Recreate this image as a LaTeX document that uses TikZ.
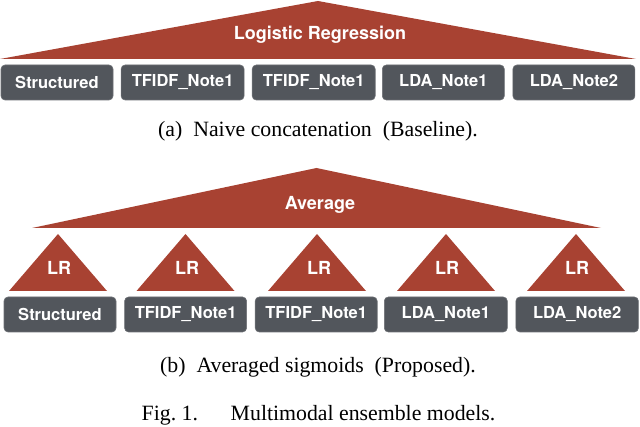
\documentclass[tikz,border=0pt]{standalone}
\usepackage{fontspec}
\setmainfont{Liberation Serif}
\setsansfont{TeX Gyre Heros}
\usetikzlibrary{shapes.geometric, positioning}
\definecolor{brick}{HTML}{A84232}
\definecolor{slate}{HTML}{52565C}

\begin{document}
\begin{tikzpicture} [x = 1pt, y = 1pt,
        feature/.style={rectangle, rounded corners = 4pt, fill = slate,
                draw = slate!85!white, line width = 0.6pt, text = white,
                minimum height = 35pt, inner sep = 0pt, align = center,
                font = \sffamily\bfseries\fontsize{16.5}{18}\selectfont},
        model/.style={isosceles triangle, isosceles triangle stretches,
                shape border rotate = 90, fill = brick, inner sep = 0pt,
                outer sep = 0pt, anchor = lower side},
        modeltext/.style={text = white,
                font = \sffamily\bfseries\fontsize{18}{20}\selectfont},
        capt/.style={font = \fontsize{21.8}{24}\selectfont}]

    \useasboundingbox (0, 0) rectangle (640, 426);

    % baseline
    \node [
        model,
        minimum width = 636pt,
        minimum height = 58pt
    ] (lr_tri) at (318, 367) {};

    \node [modeltext] (lr_text) at (320, 391) {Logistic Regression};

    \node [
        feature,
        minimum width = 112pt
    ] (a_struct) at (57, 343.5) {Structured};

    \node [
        feature,
        minimum width = 123pt,
        right = 7.5pt of a_struct
    ] (a_tfidf1) {TFIDF\_Note1};

    \node [
        feature,
        minimum width = 123pt,
        right = 7.5pt of a_tfidf1
    ] (a_tfidf2) {TFIDF\_Note1};

    \node [
        feature,
        minimum width = 122pt,
        right = 6.5pt of a_tfidf2
    ] (a_lda1) {LDA\_Note1};

    \node [
        feature,
        minimum width = 122pt,
        right = 8pt of a_lda1
    ] (a_lda2) {LDA\_Note2};

    \node [capt] (a_capt) at (318, 295) {(a)\ \ Naive concatenation\ \ (Baseline).};

    % proposed
    \node [
        model,
        minimum width = 569pt,
        minimum height = 60pt
    ] (avg_tri) at (316.5, 198) {};

    \node [modeltext] (avg_text) at (320, 221.5) {Average};

    \node [
        feature,
        minimum width = 112pt
    ] (b_struct) at (60, 111.5) {Structured};

    \node [
        feature,
        minimum width = 122pt,
        right = 8pt of b_struct
    ] (b_tfidf1) {TFIDF\_Note1};

    \node [
        feature,
        minimum width = 122pt,
        right = 8pt of b_tfidf1
    ] (b_tfidf2) {TFIDF\_Note1};

    \node [
        feature,
        minimum width = 123pt,
        right = 6.5pt of b_tfidf2
    ] (b_lda1) {LDA\_Note1};

    \node [
        feature,
        minimum width = 122.5pt,
        right = 8pt of b_lda1
    ] (b_lda2) {LDA\_Note2};

    \foreach \name/\x/\tx in {struct/58/59, tfidfa/185.5/187, tfidfb/317/319, ldaa/446/447, ldab/576/577} {
        \node [
            model,
            minimum width = 98pt,
            minimum height = 57pt
        ] (tri_\name) at (\x, 135) {};
        \node [modeltext] (text_\name) at (\tx, 158) {LR};
    }

    \node [capt] (b_capt) at (318, 59) {(b)\ \ Averaged sigmoids\ \ (Proposed).};

    \node [capt] (fig_capt) at (318.5, 11) {Fig.\ 1.\quad\ \ Multimodal ensemble models.};

\end{tikzpicture}
\end{document}
